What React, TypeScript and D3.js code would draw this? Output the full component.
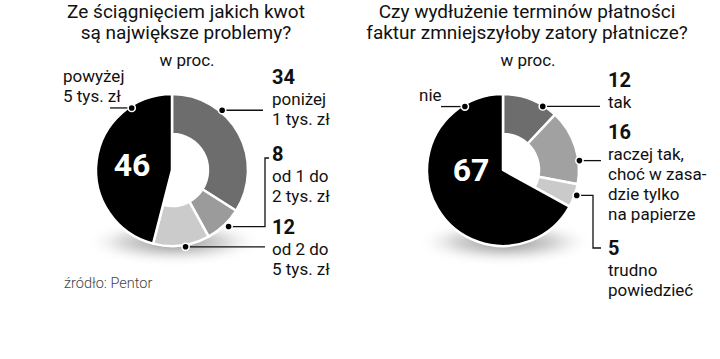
import React from 'react';
import * as d3 from 'd3';

// left chart: "Ze ściągnięciem jakich kwot są największe problemy?"
const leftTitle = ['Ze ściągnięciem jakich kwot', 'są największe problemy?'];
const leftValues = [34, 8, 12, 46];
const leftLabels = [['poniżej', '1 tys. zł'], ['od 1 do', '2 tys. zł'], ['od 2 do', '5 tys. zł'], ['powyżej', '5 tys. zł']];
const leftColors = ['#6d6d6d', '#9b9b9b', '#cbcbcb', '#000000'];

// right chart: "Czy wydłużenie terminów płatności ..."
const rightTitle = ['Czy wydłużenie terminów płatności', 'faktur zmniejszyłoby zatory płatnicze?'];
const rightValues = [12, 16, 5, 67];
const rightLabels = [['tak'], ['raczej tak,', 'choć w zasa-', 'dzie tylko', 'na papierze'], ['trudno', 'powiedzieć'], ['nie']];
const rightColors = ['#6d6d6d', '#a1a1a1', '#cacaca', '#000000'];

const subtitle = 'w proc.';
const source = 'źródło: Pentor';

const W = 720;
const H = 359;
const R = 76;
const R_IN = 36;
const FONT = 'Roboto, "Noto Sans", sans-serif';
const LABEL_SIZE = 17;
const LINE_H = 20;

type Pt = [number, number];
type LabelCfg = {
  dotAngle: number; // degrees, clockwise from top
  dotR: number;
  x: number;
  y: number; // baseline of the number (or of the first line when inside)
  inside?: Pt; // position of the number inside the slice
  leader: (d: Pt) => Pt[];
};

const leftLayout: LabelCfg[] = [
  { dotAngle: 40, dotR: 78, x: 272, y: 84, leader: d => [d, [263, d[1]]] },
  { dotAngle: 135, dotR: 80, x: 272, y: 161, leader: d => [d, [265, d[1]], [265, 158], [269, 158]] },
  { dotAngle: 170, dotR: 78, x: 272, y: 234, leader: d => [d, [265, d[1]]] },
  { dotAngle: 327, dotR: 74, x: 63, y: 82, inside: [132, 176], leader: d => [d, [110, d[1]]] },
];

const rightLayout: LabelCfg[] = [
  { dotAngle: 32, dotR: 75, x: 608, y: 87, leader: d => [d, [600, d[1]]] },
  { dotAngle: 83, dotR: 77, x: 608, y: 139, leader: d => [d, [601, d[1]]] },
  { dotAngle: 109, dotR: 78, x: 608, y: 255, leader: d => [d, [593, d[1]], [593, 248], [601, 248]] },
  { dotAngle: 329, dotR: 74, x: 419, y: 101, inside: [471, 181], leader: d => [d, [441, d[1]]] },
];

const Donut = ({ id, cx, cy, values, colors, labels, layout, title, titleX }: {
  id: string; cx: number; cy: number; values: number[]; colors: string[];
  labels: string[][]; layout: LabelCfg[]; title: string[]; titleX: number;
}) => {
  const arcs = d3.pie<number>().sort(null).value(d => d)(values);
  const line = d3.line();
  return (
    <g>
      {title.map((t, i) => (
        <text key={i} x={titleX} y={18 + i * 21} textAnchor="middle" fontSize={19} fill="#111">{t}</text>
      ))}
      <text x={titleX + 1} y={66} textAnchor="middle" fontSize={17} fill="#111">{subtitle}</text>

      {/* shadow under the pie */}
      <ellipse cx={cx + 2} cy={cy + 72} rx={88} ry={20} fill={`url(#sh-${id})`} filter={`url(#bl-${id})`} />

      <g transform={`translate(${cx},${cy})`}>
        {arcs.map((a, i) => {
          const inner = colors[i] === '#000000' ? 0 : R_IN;
          const path = d3.arc<d3.PieArcDatum<number>>().innerRadius(inner).outerRadius(R)(a) || '';
          return <path key={i} d={path} fill={colors[i]} stroke="#fff" strokeWidth={2.5} strokeLinejoin="round" />;
        })}
      </g>

      {arcs.map((a, i) => {
        const cfg = layout[i];
        const p = d3.pointRadial((cfg.dotAngle * Math.PI) / 180, cfg.dotR);
        const dot: Pt = [cx + p[0], cy + p[1]];
        const pts = cfg.leader(dot);
        return (
          <g key={i}>
            <path d={line(pts) || ''} fill="none" stroke="#111" strokeWidth={1.3} />
            <circle cx={dot[0]} cy={dot[1]} r={3.6} fill="#000" stroke="#fff" strokeWidth={1.6} />
            {cfg.inside ? (
              <>
                <text x={cfg.inside[0]} y={cfg.inside[1]} textAnchor="middle" fontSize={32} fontWeight={700} fill="#fff">{a.data}</text>
                {labels[i].map((t, j) => (
                  <text key={j} x={cfg.x} y={cfg.y + j * LINE_H} fontSize={LABEL_SIZE} fill="#111">{t}</text>
                ))}
              </>
            ) : (
              <>
                <text x={cfg.x} y={cfg.y} fontSize={20} fontWeight={700} fill="#111">{a.data}</text>
                {labels[i].map((t, j) => (
                  <text key={j} x={cfg.x} y={cfg.y + 21 + j * LINE_H} fontSize={LABEL_SIZE} fill="#111">{t}</text>
                ))}
              </>
            )}
          </g>
        );
      })}
    </g>
  );
};

export default function App() {
  return (
    <svg width={W} height={H} style={{ position: 'absolute', left: 0, top: 0, background: '#fff' }} fontFamily={FONT}>
      <defs>
        {['l', 'r'].map(id => (
          <React.Fragment key={id}>
            <radialGradient id={`sh-${id}`}>
              <stop offset="0%" stopColor="#777" stopOpacity={0.9} />
              <stop offset="60%" stopColor="#bbb" stopOpacity={0.6} />
              <stop offset="100%" stopColor="#fff" stopOpacity={0} />
            </radialGradient>
            <filter id={`bl-${id}`} x="-20%" y="-50%" width="140%" height="200%">
              <feGaussianBlur stdDeviation={4} />
            </filter>
          </React.Fragment>
        ))}
      </defs>
      <rect width={W} height={H} fill="#fff" />
      <Donut id="l" cx={172} cy={170} values={leftValues} colors={leftColors} labels={leftLabels}
        layout={leftLayout} title={leftTitle} titleX={186} />
      <Donut id="r" cx={503} cy={170} values={rightValues} colors={rightColors} labels={rightLabels}
        layout={rightLayout} title={rightTitle} titleX={527} />
      <text x={64} y={288} fontSize={14.5} fontWeight={300} fill="#444">{source}</text>
    </svg>
  );
}
